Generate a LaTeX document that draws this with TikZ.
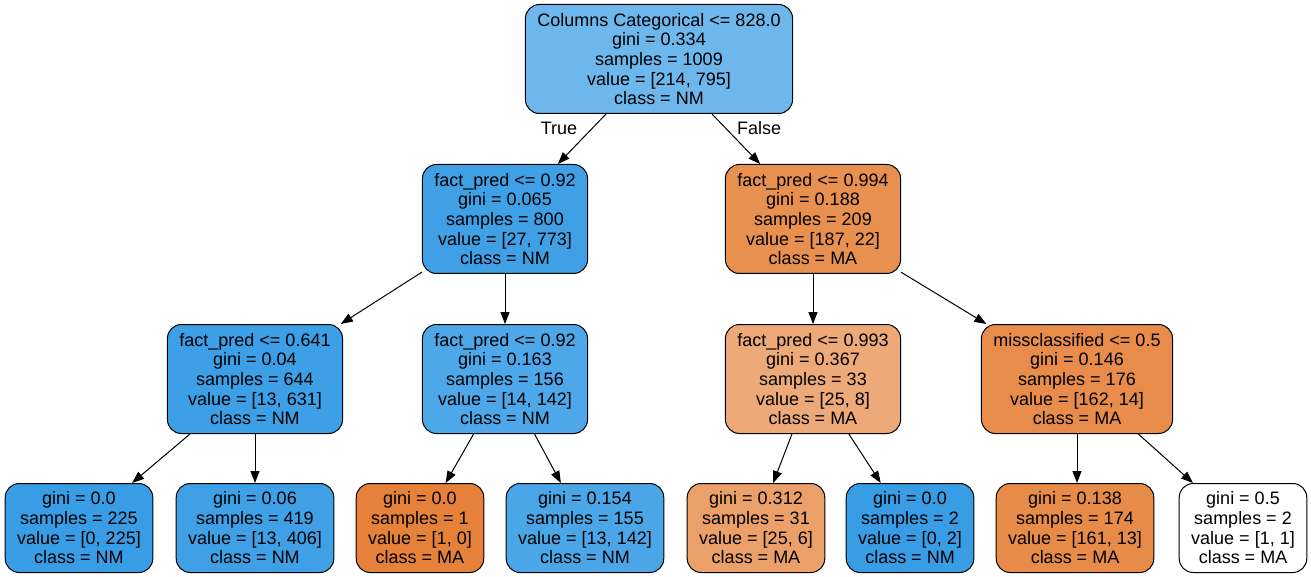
\documentclass[tikz,border=0pt]{standalone}
\usepackage{fontspec}
\setmainfont{Liberation Sans}
\usetikzlibrary{shapes,arrows.meta,positioning}

\definecolor{rootblue}{HTML}{6EB7EC}
\definecolor{nmA}{HTML}{40A0E6}
\definecolor{nmB}{HTML}{3D9FE5}
\definecolor{nmC}{HTML}{4DA7E8}
\definecolor{nmD}{HTML}{3FA0E6}
\definecolor{nmE}{HTML}{4BA6E7}
\definecolor{nmFull}{HTML}{399DE5}
\definecolor{maA}{HTML}{E89050}
\definecolor{maB}{HTML}{EDA978}
\definecolor{maC}{HTML}{E78C4A}
\definecolor{maD}{HTML}{EB9F69}
\definecolor{maE}{HTML}{E78B49}
\definecolor{maFull}{HTML}{E58139}

\begin{document}
\begin{tikzpicture}[
    x=1pt, y=-1pt,
    node distance=50pt,
    split/.style={rectangle,rounded corners=14pt,draw,line width=1pt,align=center,inner xsep=12pt,minimum height=109pt,font=\fontsize{18}{19.7}\selectfont},
    leaf/.style={split,minimum height=89pt},
    line/.style={draw,line width=1pt,-{Triangle[length=12pt,width=9pt]}},
    edgelbl/.style={font=\fontsize{18}{19.7}\selectfont}]

    \useasboundingbox (0,0) rectangle (1311,577);

    % Root split
    \node[split, fill=rootblue] (root) at (659,59) {Columns Categorical <= 828.0\\gini = 0.334\\samples = 1009\\value = [214, 795]\\class = NM};

    % First level
    \node[split, fill=nmA, below=of root, xshift=-154pt] (predA) {fact\_pred <= 0.92\\gini = 0.065\\samples = 800\\value = [27, 773]\\class = NM};
    \node[split, fill=maA, below=of root, xshift=154pt] (predB) {fact\_pred <= 0.994\\gini = 0.188\\samples = 209\\value = [187, 22]\\class = MA};

    % Second level
    \node[split, fill=nmB, below=of predA, xshift=-250pt] (predC) {fact\_pred <= 0.641\\gini = 0.04\\samples = 644\\value = [13, 631]\\class = NM};
    \node[split, fill=nmC, below=of predA] (predD) {fact\_pred <= 0.92\\gini = 0.163\\samples = 156\\value = [14, 142]\\class = NM};
    \node[split, fill=maB, below=of predB] (predE) {fact\_pred <= 0.993\\gini = 0.367\\samples = 33\\value = [25, 8]\\class = MA};
    \node[split, fill=maC, below=of predB, xshift=264pt] (miss) {missclassified <= 0.5\\gini = 0.146\\samples = 176\\value = [162, 14]\\class = MA};

    % Leaves
    \node[leaf, fill=nmFull, below=49pt of predC, xshift=-176pt] (leafA) {gini = 0.0\\samples = 225\\value = [0, 225]\\class = NM};
    \node[leaf, fill=nmD, below=49pt of predC] (leafB) {gini = 0.06\\samples = 419\\value = [13, 406]\\class = NM};
    \node[leaf, fill=maFull, below=49pt of predD, xshift=-85pt] (leafC) {gini = 0.0\\samples = 1\\value = [1, 0]\\class = MA};
    \node[leaf, fill=nmE, below=49pt of predD, xshift=80pt] (leafD) {gini = 0.154\\samples = 155\\value = [13, 142]\\class = NM};
    \node[leaf, fill=maD, below=49pt of predE, xshift=-57pt] (leafE) {gini = 0.312\\samples = 31\\value = [25, 6]\\class = MA};
    \node[leaf, fill=nmFull, below=49pt of predE, xshift=97pt] (leafF) {gini = 0.0\\samples = 2\\value = [0, 2]\\class = NM};
    \node[leaf, fill=maE, below=49pt of miss, xshift=-2pt] (leafG) {gini = 0.138\\samples = 174\\value = [161, 13]\\class = MA};
    \node[leaf, fill=white, below=49pt of miss, xshift=166pt] (leafH) {gini = 0.5\\samples = 2\\value = [1, 1]\\class = MA};

    % Edges
    \path[line] (root) -- (predA);
    \path[line] (root) -- (predB);
    \path[line] (predA) -- (predC);
    \path[line] (predA) -- (predD);
    \path[line] (predB) -- (predE);
    \path[line] (predB) -- (miss);
    \path[line] (predC) -- (leafA);
    \path[line] (predC) -- (leafB);
    \path[line] (predD) -- (leafC);
    \path[line] (predD) -- (leafD);
    \path[line] (predE) -- (leafE);
    \path[line] (predE) -- (leafF);
    \path[line] (miss.south) -- (miss.south |- leafG.north);
    \path[line] (miss) -- (leafH);

    % Edge labels
    \node[edgelbl] (lblTrue) at (559,128) {True};
    \node[edgelbl] (lblFalse) at (759,128) {False};
\end{tikzpicture}
\end{document}
